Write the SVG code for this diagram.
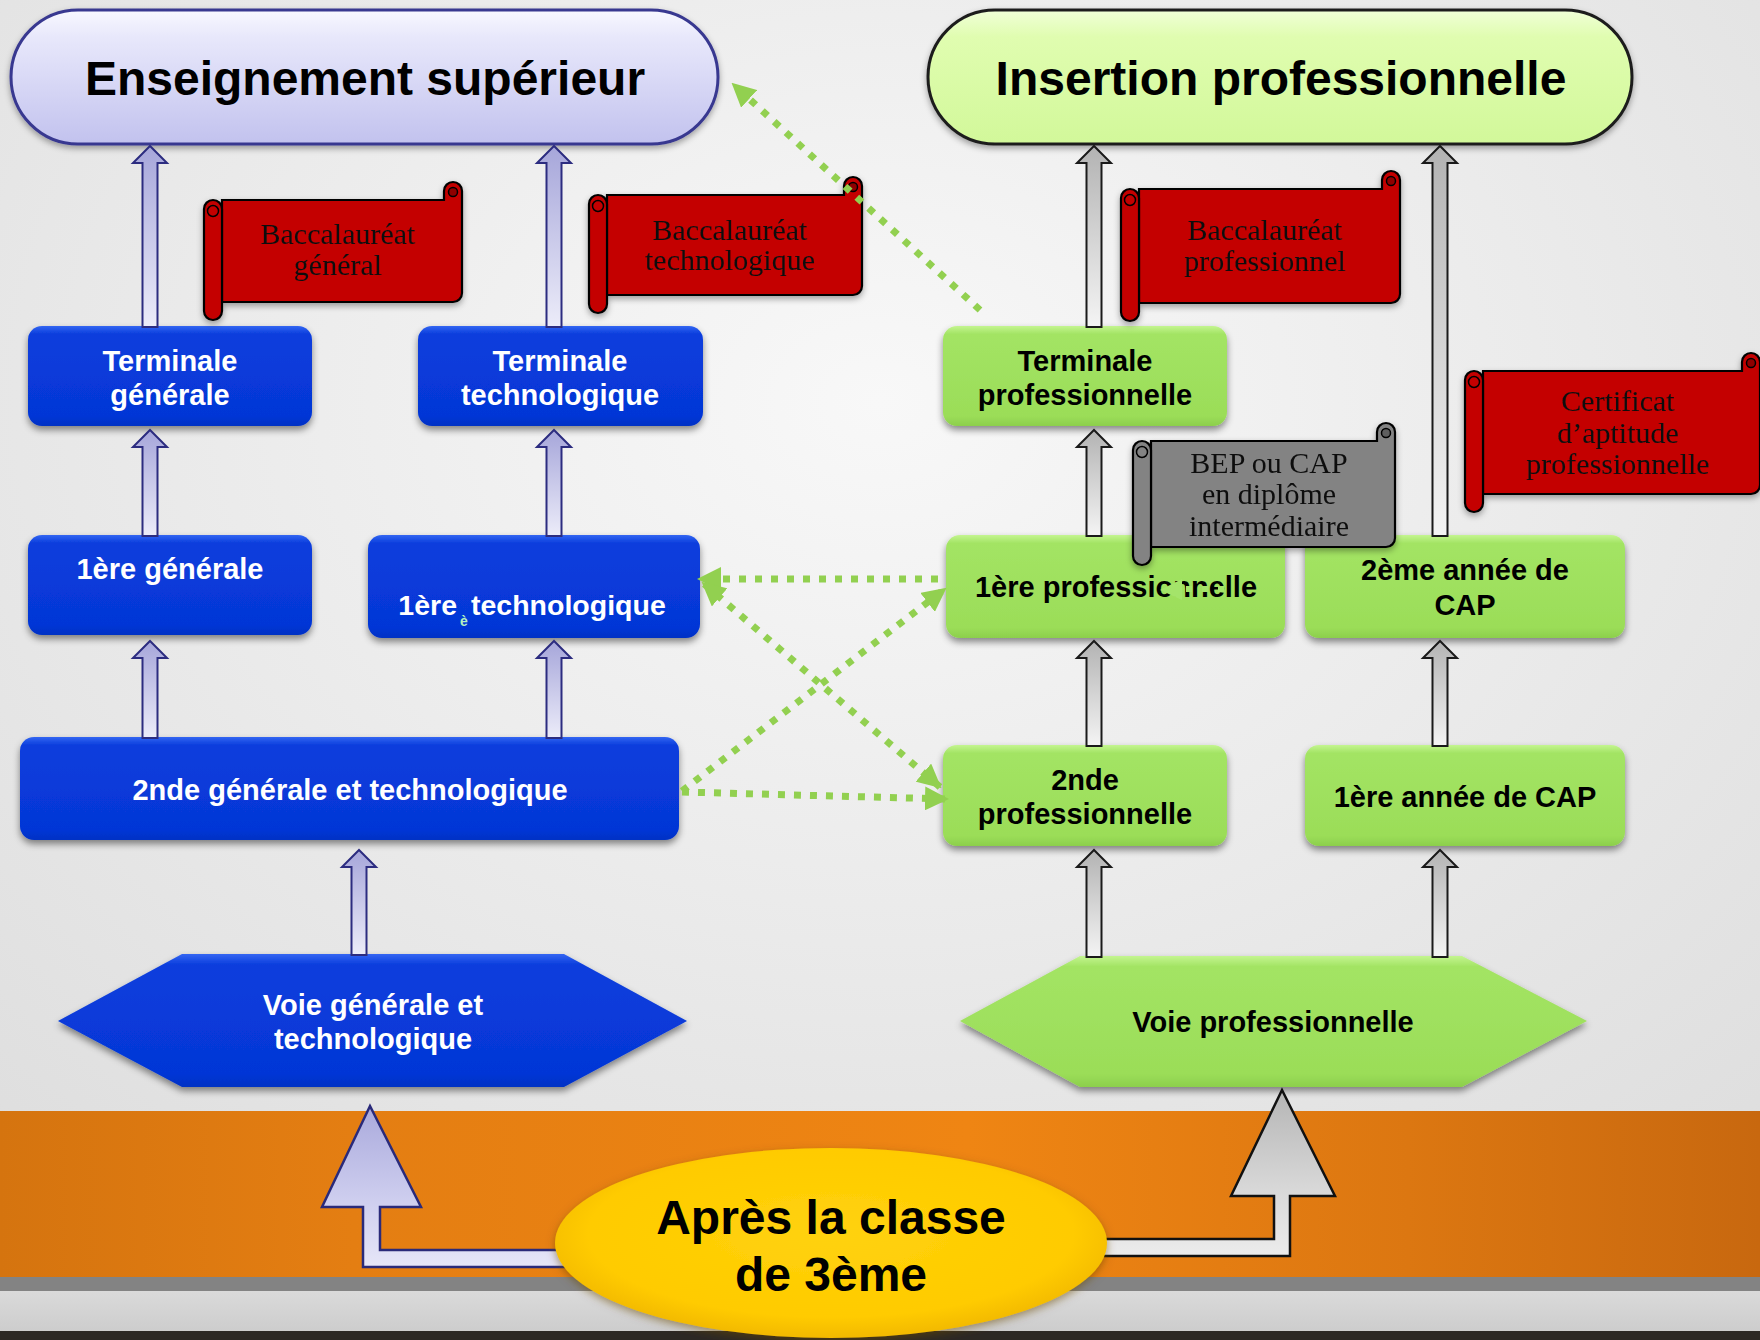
<svg xmlns="http://www.w3.org/2000/svg" width="1760" height="1340" viewBox="0 0 1760 1340">
<style>
.t{font-family:'Liberation Sans',Arial,Helvetica,sans-serif;font-weight:bold;text-anchor:middle;font-size:29px}
.w{fill:#fff}.k{fill:#000}
.title{font-size:48px}
.big{font-size:48px}
.s{font-family:'Liberation Serif','Times New Roman',serif;font-size:30px;fill:#111;text-anchor:middle}
.bbox{fill:url(#gBlue);filter:url(#sh)}
.gbox{fill:url(#gGreen);filter:url(#sh)}
.ab{fill:url(#gArrB);stroke:#2c2c80;stroke-width:2}
.ag{fill:url(#gArrG);stroke:#1a1a1a;stroke-width:2}
.dot{stroke:#92d050;stroke-width:7;stroke-dasharray:7 9;fill:none;marker-end:url(#gh)}
.scr{fill:#c40000;stroke:#000;stroke-width:2.2}
.scrg{fill:#838383;stroke:#000;stroke-width:2.2}
.curl{fill:#8e0000;stroke:#000;stroke-width:1.5}
.curlg{fill:#5e5e5e;stroke:#000;stroke-width:1.5}
.loop{fill:none;stroke:#000;stroke-width:1.5}
</style>
<defs>
<radialGradient id="bg" cx="0.5" cy="0.3" r="0.75">
<stop offset="0" stop-color="#f8f8f8"/><stop offset="1" stop-color="#dedede"/>
</radialGradient>
<linearGradient id="orange" x1="0" y1="0" x2="1" y2="0">
<stop offset="0" stop-color="#d5740f"/><stop offset="0.2" stop-color="#e47e12"/><stop offset="0.55" stop-color="#ef8513"/><stop offset="0.8" stop-color="#dc7711"/><stop offset="1" stop-color="#c8680f"/>
</linearGradient>
<linearGradient id="lowgray" x1="0" y1="0" x2="0" y2="1">
<stop offset="0" stop-color="#dadada"/><stop offset="1" stop-color="#cdcdcd"/>
</linearGradient>
<linearGradient id="pillB" x1="0" y1="0" x2="0" y2="1">
<stop offset="0" stop-color="#f8f8ff"/><stop offset="0.2" stop-color="#e8e8fb"/><stop offset="1" stop-color="#c2c2ee"/>
</linearGradient>
<linearGradient id="pillG" x1="0" y1="0" x2="0" y2="1">
<stop offset="0" stop-color="#f0ffd8"/><stop offset="0.2" stop-color="#e0fdb0"/><stop offset="1" stop-color="#d2f89a"/>
</linearGradient>
<linearGradient id="gBlue" x1="0" y1="0" x2="0" y2="1">
<stop offset="0" stop-color="#3466f2"/><stop offset="0.08" stop-color="#0a3edd"/><stop offset="0.9" stop-color="#0536d6"/><stop offset="1" stop-color="#0431c4"/>
</linearGradient>
<linearGradient id="gGreen" x1="0" y1="0" x2="0" y2="1">
<stop offset="0" stop-color="#c4f590"/><stop offset="0.08" stop-color="#a3e464"/><stop offset="0.9" stop-color="#9bdd58"/><stop offset="1" stop-color="#8ccf4c"/>
</linearGradient>
<linearGradient id="gArrB" x1="0" y1="0" x2="0" y2="1">
<stop offset="0" stop-color="#a6a6da"/><stop offset="1" stop-color="#ececf9"/>
</linearGradient>
<linearGradient id="gArrG" x1="0" y1="0" x2="0" y2="1">
<stop offset="0" stop-color="#b3b3b3"/><stop offset="1" stop-color="#f4f4f4"/>
</linearGradient>
<linearGradient id="bigB" x1="0" y1="0" x2="0" y2="1">
<stop offset="0" stop-color="#a9a9dc"/><stop offset="0.6" stop-color="#cfcfef"/><stop offset="1" stop-color="#e6e6f8"/>
</linearGradient>
<linearGradient id="bigG" x1="0" y1="0" x2="0" y2="1">
<stop offset="0" stop-color="#b5b5b5"/><stop offset="0.6" stop-color="#d8d8d8"/><stop offset="1" stop-color="#ececec"/>
</linearGradient>
<radialGradient id="yel" cx="0.5" cy="0.45" r="0.55">
<stop offset="0" stop-color="#ffd20c"/><stop offset="0.8" stop-color="#ffcb00"/><stop offset="1" stop-color="#f2b900"/>
</radialGradient>
<filter id="sh" x="-10%" y="-15%" width="120%" height="140%">
<feDropShadow dx="0" dy="4" stdDeviation="3.5" flood-color="#000" flood-opacity="0.45"/>
</filter>
<filter id="sh2" x="-10%" y="-15%" width="120%" height="140%">
<feDropShadow dx="0" dy="3" stdDeviation="3" flood-color="#000" flood-opacity="0.35"/>
</filter>
<filter id="glow" x="-10%" y="-15%" width="120%" height="140%">
<feDropShadow dx="0" dy="3" stdDeviation="4" flood-color="#6a4a00" flood-opacity="0.55"/>
</filter>
<marker id="gh" viewBox="0 0 24 24" markerWidth="24" markerHeight="24" refX="22" refY="12" orient="auto" markerUnits="userSpaceOnUse">
<path d="M0,0 L24,12 L0,24 Z" fill="#92d050"/>
</marker>
<marker id="ghs" viewBox="0 0 24 24" markerWidth="24" markerHeight="24" refX="22" refY="12" orient="auto-start-reverse" markerUnits="userSpaceOnUse">
<path d="M0,0 L24,12 L0,24 Z" fill="#92d050"/>
</marker>
</defs>

<g id="background">
<rect width="1760" height="1340" fill="url(#bg)"/>
<rect x="0" y="1111" width="1760" height="166" fill="url(#orange)"/>
<rect x="0" y="1277" width="1760" height="14" fill="#838383"/>
<rect x="0" y="1291" width="1760" height="40" fill="url(#lowgray)"/>
<rect x="0" y="1331" width="1760" height="9" fill="#2c2824"/>
</g>

<g id="ens-sup">
<rect x="11" y="10" width="707" height="134" rx="67" fill="url(#pillB)" stroke="#383890" stroke-width="3" filter="url(#sh2)"/>
<text class="t k title" x="365" y="95">Enseignement supérieur</text>
</g>
<g id="insertion-pro">
<rect x="928" y="10" width="704" height="134" rx="67" fill="url(#pillG)" stroke="#1e1e1e" stroke-width="3" filter="url(#sh2)"/>
<text class="t k title" x="1281" y="95">Insertion professionnelle</text>
</g>

<g id="terminale-generale">
<rect class="bbox" x="28" y="326" width="284" height="100" rx="14"/>
<text class="t w" x="170" y="371">Terminale</text>
<text class="t w" x="170" y="405">générale</text>
</g>
<g id="terminale-technologique">
<rect class="bbox" x="418" y="326" width="285" height="100" rx="14"/>
<text class="t w" x="560" y="371">Terminale</text>
<text class="t w" x="560" y="405">technologique</text>
</g>
<g id="premiere-generale">
<rect class="bbox" x="28" y="535" width="284" height="100" rx="14"/>
<text class="t w" x="170" y="579">1ère générale</text>
</g>
<g id="premiere-technologique">
<rect class="bbox" x="368" y="535" width="332" height="103" rx="14"/>
<text class="t w" x="457" y="615" style="text-anchor:end;font-size:28.5px">1ère</text>
<text x="464" y="626" font-family="'Liberation Sans',Arial,sans-serif" font-size="14" font-weight="bold" fill="#b4f0c0" text-anchor="middle">è</text>
<text class="t w" x="471" y="615" style="text-anchor:start;font-size:28.5px">technologique</text>
</g>
<g id="seconde-gt">
<rect class="bbox" x="20" y="737" width="659" height="103" rx="14"/>
<text class="t w" x="350" y="800">2nde générale et technologique</text>
</g>
<g id="voie-gt">
<polygon points="58,1021 182,954 564,954 687,1021 564,1087 182,1087" fill="url(#gBlue)" filter="url(#sh)"/>
<text class="t w" x="373" y="1015">Voie générale et</text>
<text class="t w" x="373" y="1049">technologique</text>
</g>

<g id="terminale-pro">
<rect class="gbox" x="943" y="326" width="284" height="100" rx="14"/>
<text class="t k" x="1085" y="371">Terminale</text>
<text class="t k" x="1085" y="405">professionnelle</text>
</g>
<g id="premiere-pro">
<rect class="gbox" x="946" y="535" width="339" height="103" rx="14"/>
<text class="t k" x="1116" y="597">1ère professionnelle</text>
<polygon points="1160,590 1182,579 1182,600" fill="#a4e46a"/>
<line x1="1186" y1="589" x2="1232" y2="589" stroke="#a4e46a" stroke-width="6" stroke-dasharray="6 10"/>
</g>
<g id="deuxieme-cap">
<rect class="gbox" x="1305" y="535" width="320" height="103" rx="14"/>
<text class="t k" x="1465" y="580">2ème année de</text>
<text class="t k" x="1465" y="615">CAP</text>
</g>
<g id="seconde-pro">
<rect class="gbox" x="943" y="745" width="284" height="101" rx="14"/>
<text class="t k" x="1085" y="790">2nde</text>
<text class="t k" x="1085" y="824">professionnelle</text>
</g>
<g id="premiere-cap">
<rect class="gbox" x="1305" y="745" width="320" height="101" rx="14"/>
<text class="t k" x="1465" y="807">1ère année de CAP</text>
</g>
<g id="voie-pro">
<polygon points="960,1021 1080,956 1462,956 1587,1021 1462,1087 1080,1087" fill="url(#gGreen)" filter="url(#sh)"/>
<text class="t k" x="1273" y="1032">Voie professionnelle</text>
</g>

<g id="scroll-bac-general" filter="url(#sh2)">
<path class="scr" d="M222,200 H444 V191 A9,9 0 0 1 462,191 V293 A9,9 0 0 1 453,302 H222 Z"/>
<circle class="curl" cx="453" cy="192" r="4.5"/>
<path class="scr" d="M204,209 A9,9 0 0 1 222,209 V311 A9,9 0 0 1 204,311 Z"/>
<circle class="loop" cx="213" cy="211" r="5.5"/>
<text class="s" x="338" y="244">Baccalauréat</text>
<text class="s" x="338" y="275">général</text>
</g>
<g id="scroll-bac-techno" filter="url(#sh2)">
<path class="scr" d="M607,195 H844 V186 A9,9 0 0 1 862,186 V286 A9,9 0 0 1 853,295 H607 Z"/>
<circle class="curl" cx="853" cy="187" r="4.5"/>
<path class="scr" d="M589,204 A9,9 0 0 1 607,204 V304 A9,9 0 0 1 589,304 Z"/>
<circle class="loop" cx="598" cy="206" r="5.5"/>
<text class="s" x="730" y="240">Baccalauréat</text>
<text class="s" x="730" y="270">technologique</text>
</g>
<g id="scroll-bac-pro" filter="url(#sh2)">
<path class="scr" d="M1139,189 H1382 V180 A9,9 0 0 1 1400,180 V294 A9,9 0 0 1 1391,303 H1139 Z"/>
<circle class="curl" cx="1391" cy="181" r="4.5"/>
<path class="scr" d="M1121,198 A9,9 0 0 1 1139,198 V312 A9,9 0 0 1 1121,312 Z"/>
<circle class="loop" cx="1130" cy="200" r="5.5"/>
<text class="s" x="1265" y="240">Baccalauréat</text>
<text class="s" x="1265" y="271">professionnel</text>
</g>
<g id="scroll-cap" filter="url(#sh2)">
<path class="scr" d="M1483,371 H1742 V362 A9,9 0 0 1 1760,362 V485 A9,9 0 0 1 1751,494 H1483 Z"/>
<circle class="curl" cx="1751" cy="363" r="4.5"/>
<path class="scr" d="M1465,380 A9,9 0 0 1 1483,380 V503 A9,9 0 0 1 1465,503 Z"/>
<circle class="loop" cx="1474" cy="382" r="5.5"/>
<text class="s" x="1618" y="411">Certificat</text>
<text class="s" x="1618" y="443">d’aptitude</text>
<text class="s" x="1618" y="474">professionnelle</text>
</g>
<g id="scroll-bep" filter="url(#sh2)">
<path class="scrg" d="M1151,441 H1377 V432 A9,9 0 0 1 1395,432 V538 A9,9 0 0 1 1386,547 H1151 Z"/>
<circle class="curlg" cx="1386" cy="433" r="4.5"/>
<path class="scrg" d="M1133,450 A9,9 0 0 1 1151,450 V556 A9,9 0 0 1 1133,556 Z"/>
<circle class="loop" cx="1142" cy="452" r="5.5"/>
<text class="s" x="1269" y="473">BEP ou CAP</text>
<text class="s" x="1269" y="504">en diplôme</text>
<text class="s" x="1269" y="536">intermédiaire</text>
</g>

<g id="connectors">
<path class="ab" d="M142.5,327 V163 H133 L150,146 L167,163 H157.5 V327 Z"/>
<path class="ab" d="M546.5,327 V163 H537 L554,146 L571,163 H561.5 V327 Z"/>
<path class="ab" d="M142.5,536 V447 H133 L150,430 L167,447 H157.5 V536 Z"/>
<path class="ab" d="M546.5,536 V447 H537 L554,430 L571,447 H561.5 V536 Z"/>
<path class="ab" d="M142.5,738 V658 H133 L150,641 L167,658 H157.5 V738 Z"/>
<path class="ab" d="M546.5,738 V658 H537 L554,641 L571,658 H561.5 V738 Z"/>
<path class="ab" d="M351.5,955 V867 H342 L359,850 L376,867 H366.5 V955 Z"/>
<path class="ag" d="M1086.5,327 V163 H1077 L1094,146 L1111,163 H1101.5 V327 Z"/>
<path class="ag" d="M1432.5,536 V163 H1423 L1440,146 L1457,163 H1447.5 V536 Z"/>
<path class="ag" d="M1086.5,536 V447 H1077 L1094,430 L1111,447 H1101.5 V536 Z"/>
<path class="ag" d="M1086.5,746 V658 H1077 L1094,641 L1111,658 H1101.5 V746 Z"/>
<path class="ag" d="M1432.5,746 V658 H1423 L1440,641 L1457,658 H1447.5 V746 Z"/>
<path class="ag" d="M1086.5,957 V867 H1077 L1094,850 L1111,867 H1101.5 V957 Z"/>
<path class="ag" d="M1432.5,957 V867 H1423 L1440,850 L1457,867 H1447.5 V957 Z"/>
<line class="dot" x1="980" y1="310" x2="733" y2="84"/>
<line class="dot" x1="938" y1="579" x2="699" y2="579"/>
<line class="dot" x1="682" y1="791" x2="945" y2="589"/>
<line class="dot" x1="682" y1="792" x2="947" y2="799"/>
<line class="dot" x1="940" y1="787" x2="703" y2="583" style="marker-start:url(#ghs)"/>
<path d="M370,1106 L421,1207 L380,1207 L380,1250 L565,1250 L565,1267 L363,1267 L363,1207 L322,1207 Z" fill="url(#bigB)" stroke="#2a2a7a" stroke-width="2.5" stroke-linejoin="miter"/>
<path d="M1282,1090 L1335,1196 L1290,1196 L1290,1256 L1100,1256 L1100,1239 L1274,1239 L1274,1196 L1231,1196 Z" fill="url(#bigG)" stroke="#111" stroke-width="2.5"/>
</g>

<g id="apres-3eme">
<ellipse cx="831" cy="1243" rx="276" ry="95" fill="url(#yel)" filter="url(#glow)"/>
<text class="t k big" x="831" y="1234">Après la classe</text>
<text class="t k big" x="831" y="1291">de 3ème</text>
</g>
</svg>
